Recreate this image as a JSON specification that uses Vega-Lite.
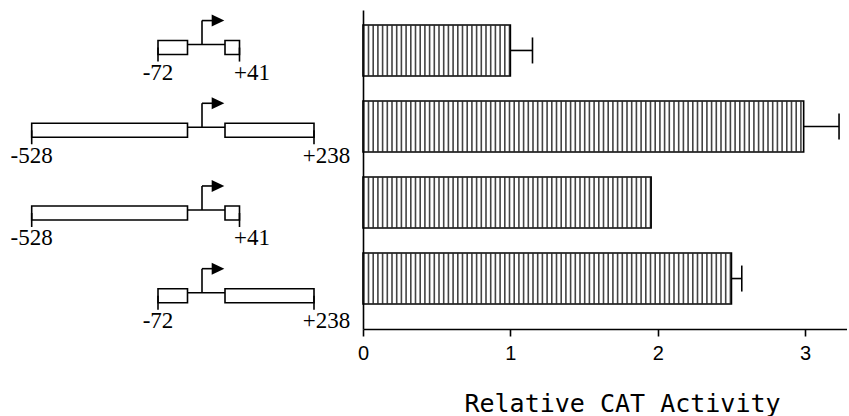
{
  "$schema": "https://vega.github.io/schema/vega-lite/v6.json",
  "padding": {"left": 0, "top": 10, "right": 0, "bottom": 0},
  "background": "white",
  "spacing": 0,
  "bounds": "flush",
  "config": {"view": {"stroke": null}, "concat": {"spacing": 0}},
  "data": {"values": [
    {"construct": "-72/+41", "start": -72, "end": 41, "tss": 0, "gapStart": -25, "gapEnd": 15, "startLabel": "-72", "endLabel": "+41", "base": 0, "activity": 1.0, "upper": 1.15},
    {"construct": "-528/+238", "start": -528, "end": 238, "tss": 0, "gapStart": -25, "gapEnd": 15, "startLabel": "-528", "endLabel": "+238", "base": 0, "activity": 2.99, "upper": 3.23},
    {"construct": "-528/+41", "start": -528, "end": 41, "tss": 0, "gapStart": -25, "gapEnd": 15, "startLabel": "-528", "endLabel": "+41", "base": 0, "activity": 1.955, "upper": null},
    {"construct": "-72/+238", "start": -72, "end": 238, "tss": 0, "gapStart": -25, "gapEnd": 15, "startLabel": "-72", "endLabel": "+238", "base": 0, "activity": 2.5, "upper": 2.57}
  ]},
  "hconcat": [
    {
      "width": 363,
      "height": 319,
      "layer": [
        {
          "mark": {"type": "rule", "color": "black", "strokeWidth": 1.6, "yOffset": -3},
          "encoding": {
            "y": {"field": "construct", "type": "nominal", "sort": null, "scale": {"type": "point", "padding": 0.4286, "align": 0.53}, "axis": null},
            "x": {"field": "gapStart", "type": "quantitative", "scale": {"domain": [-528, -72, -25, 0, 15, 41, 238], "range": [31.7, 158, 187.5, 202, 225, 239.5, 314], "nice": false, "zero": false}, "axis": null},
            "x2": {"field": "gapEnd"}
          }
        },
        {
          "mark": {"type": "rule", "color": "black", "strokeWidth": 1.6, "yOffset": -3, "y2Offset": -27},
          "encoding": {
            "y": {"field": "construct", "type": "nominal", "sort": null},
            "x": {"field": "tss", "type": "quantitative"},
            "y2": {"field": "construct"}
          }
        },
        {
          "mark": {"type": "rule", "color": "black", "strokeWidth": 1.6, "yOffset": -27, "x2Offset": 11},
          "encoding": {
            "y": {"field": "construct", "type": "nominal", "sort": null},
            "x": {"field": "tss", "type": "quantitative"},
            "x2": {"field": "tss"}
          }
        },
        {
          "mark": {"type": "point", "shape": "M-1,-0.95L1,0L-1,0.95Z", "filled": true, "color": "black", "opacity": 1, "size": 160, "xOffset": 16, "yOffset": -27, "strokeWidth": 0},
          "encoding": {
            "y": {"field": "construct", "type": "nominal", "sort": null},
            "x": {"field": "tss", "type": "quantitative"}
          }
        },
        {
          "mark": {"type": "rect", "fill": "white", "stroke": "black", "strokeWidth": 1.6, "yOffset": -7, "y2Offset": 7},
          "encoding": {
            "y": {"field": "construct", "type": "nominal", "sort": null},
            "x": {"field": "start", "type": "quantitative"},
            "x2": {"field": "gapStart"},
            "y2": {"field": "construct"}
          }
        },
        {
          "mark": {"type": "rect", "fill": "white", "stroke": "black", "strokeWidth": 1.6, "yOffset": -7, "y2Offset": 7},
          "encoding": {
            "y": {"field": "construct", "type": "nominal", "sort": null},
            "x": {"field": "gapEnd", "type": "quantitative"},
            "x2": {"field": "end"},
            "y2": {"field": "construct"}
          }
        },
        {
          "mark": {"type": "rule", "color": "black", "strokeWidth": 1.6, "yOffset": 0, "y2Offset": 14},
          "encoding": {
            "y": {"field": "construct", "type": "nominal", "sort": null},
            "x": {"field": "start", "type": "quantitative"},
            "y2": {"field": "construct"}
          }
        },
        {
          "mark": {"type": "rule", "color": "black", "strokeWidth": 1.6, "yOffset": 0, "y2Offset": 14},
          "encoding": {
            "y": {"field": "construct", "type": "nominal", "sort": null},
            "x": {"field": "end", "type": "quantitative"},
            "y2": {"field": "construct"}
          }
        },
        {
          "mark": {"type": "text", "font": "Liberation Serif", "fontSize": 23, "color": "black", "align": "center", "baseline": "alphabetic", "dy": 32.5},
          "encoding": {
            "y": {"field": "construct", "type": "nominal", "sort": null},
            "x": {"field": "start", "type": "quantitative"},
            "text": {"field": "startLabel"}
          }
        },
        {
          "mark": {"type": "text", "font": "Liberation Serif", "fontSize": 23, "color": "black", "align": "center", "baseline": "alphabetic", "dy": 32.5, "dx": 12.5},
          "encoding": {
            "y": {"field": "construct", "type": "nominal", "sort": null},
            "x": {"field": "end", "type": "quantitative"},
            "text": {"field": "endLabel"}
          }
        }
      ]
    },
    {
      "width": 484,
      "height": 319,
      "layer": [
        {
          "mark": {"type": "rule", "stroke": "#444444", "strokeWidth": 50, "strokeDash": [1.6, 3.1]},
          "encoding": {
            "y": {"field": "construct", "type": "nominal", "sort": null, "scale": {"paddingInner": 0.33, "paddingOuter": 0.263, "align": 0.375}, "axis": {"labels": false, "ticks": false, "title": null, "domain": true, "domainColor": "black", "domainWidth": 1.6, "grid": false, "minExtent": 0, "maxExtent": 0}},
            "x": {"field": "base", "type": "quantitative", "scale": {"domain": [0, 3.284], "nice": false, "zero": true},
              "axis": {"values": [0, 1, 2, 3], "format": "d", "title": "Relative CAT Activity", "grid": false, "domainColor": "black", "domainWidth": 1.6, "tickColor": "black", "tickWidth": 1.6, "tickSize": 7, "labelFont": "Liberation Sans", "labelFontSize": 20, "labelColor": "black", "labelPadding": 7, "labelFlush": false, "titleFont": "DejaVu Sans Mono", "titleFontSize": 25, "titleFontWeight": "normal", "titleColor": "black", "titlePadding": 28, "titleX": 259}},
            "x2": {"field": "activity"}
          }
        },
        {
          "mark": {"type": "bar", "fill": "white", "fillOpacity": 0, "stroke": "black", "strokeWidth": 1.6},
          "encoding": {
            "y": {"field": "construct", "type": "nominal", "sort": null},
            "x": {"field": "activity", "type": "quantitative"}
          }
        },
        {
          "transform": [{"filter": "isValid(datum.upper)"}],
          "mark": {"type": "rule", "color": "black", "strokeWidth": 1.6},
          "encoding": {
            "y": {"field": "construct", "type": "nominal", "sort": null},
            "x": {"field": "activity", "type": "quantitative"},
            "x2": {"field": "upper"}
          }
        },
        {
          "transform": [{"filter": "isValid(datum.upper)"}],
          "mark": {"type": "tick", "color": "black", "size": 26, "thickness": 1.6, "opacity": 1},
          "encoding": {
            "y": {"field": "construct", "type": "nominal", "sort": null},
            "x": {"field": "upper", "type": "quantitative"}
          }
        }
      ]
    }
  ]
}
